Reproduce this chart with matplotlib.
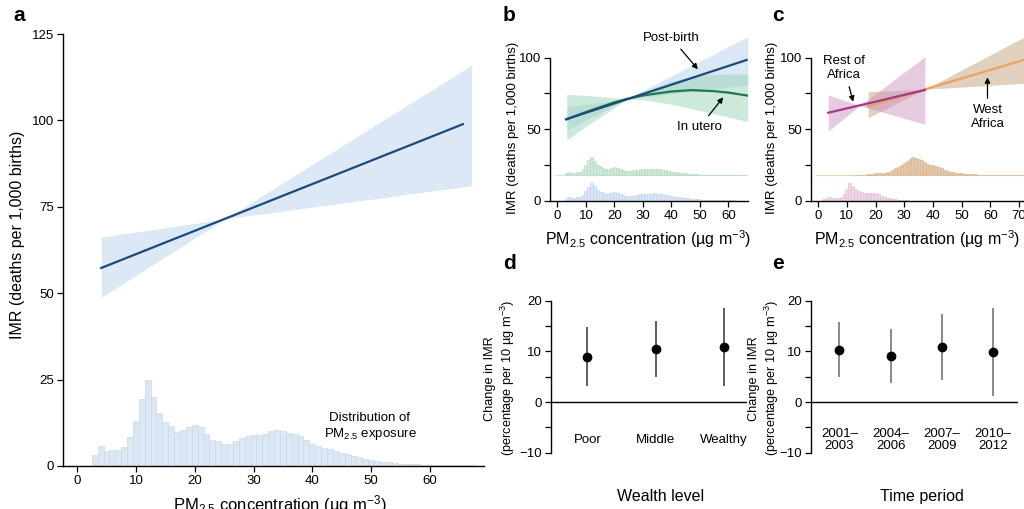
import numpy as np
import matplotlib
matplotlib.use("Agg")
import matplotlib.pyplot as plt

plt.rcParams['font.family'] = ['Liberation Sans', 'DejaVu Sans']
plt.rcParams['mathtext.fontset'] = 'custom'
plt.rcParams['mathtext.rm'] = 'Liberation Sans'
plt.rcParams['mathtext.default'] = 'regular'
plt.rcParams['axes.linewidth'] = 1.0

# ---- panel a: pooled dose-response and exposure distribution ----
pm_line_x = [4.1, 65.6]
pm_line_imr = [57.3, 98.9]
pm_band_x = [4.1, 25.2, 67.1]
pm_band_hi = [66.2, 71.5, 116.0]
pm_band_lo = [48.8, 71.5, 81.1]

exposure_start = 3
exposure_share = [3.1, 5.7, 4.2, 4.5, 4.6, 5.4, 8.3, 13.1, 19.5, 25.0,
                  19.9, 15.2, 12.8, 11.6, 9.7, 10.4, 11.2, 11.8, 11.2, 9.4,
                  7.5, 7.3, 6.5, 6.5, 7.1, 8.1, 8.8, 9.0, 9.0, 9.4,
                  10.1, 10.4, 10.1, 9.6, 9.2, 8.7, 7.5, 6.5, 5.7, 5.3,
                  4.8, 4.4, 3.9, 3.4, 3.0, 2.6, 2.1, 1.7, 1.4, 1.2,
                  1.1, 0.9, 0.7, 0.6, 0.5, 0.5, 0.4, 0.4, 0.4, 0.3,
                  0.3, 0.3, 0.2, 0.2, 0.2]

# ---- panel b: post-birth vs in utero exposure ----
post_x = [3.0, 66.4]
post_imr = [56.9, 98.4]
post_band_x = [3.3, 24.3, 66.8]
post_band_hi = [65.7, 71.1, 114.7]
post_band_lo = [49.4, 71.1, 80.9]

utero_x = [3.3, 10, 20, 24.3, 30, 40, 47, 55, 60, 66.8]
utero_imr = [57.0, 62.0, 68.8, 71.1, 73.6, 76.4, 77.3, 76.6, 75.6, 73.5]
utero_band_x = [3.3, 10, 20, 24.3, 30, 40, 50, 60, 66.8]
utero_band_hi = [74.4, 73.6, 72.0, 71.1, 76.0, 83.5, 88.0, 88.5, 88.4]
utero_band_lo = [42.4, 52.0, 65.0, 71.1, 70.5, 67.5, 63.0, 58.5, 55.3]

hist_b_start = 3
post_hist = [1.5, 2.8, 2.1, 2.2, 2.3, 2.7, 4.1, 6.5, 9.7, 12.6,
             10.0, 7.6, 6.4, 5.8, 4.9, 5.2, 5.6, 5.9, 5.6, 4.7,
             3.8, 3.6, 3.3, 3.3, 3.5, 4.0, 4.4, 4.5, 4.5, 4.7,
             5.0, 5.2, 5.0, 4.8, 4.6, 4.3, 3.8, 3.3, 2.9, 2.6,
             2.4, 2.2, 1.9, 1.7, 1.5, 1.3, 1.0, 0.9, 0.7, 0.6,
             0.5, 0.4, 0.4, 0.3, 0.3, 0.2, 0.2, 0.2, 0.2, 0.2,
             0.1, 0.1, 0.1, 0.1]
utero_hist = [1.5, 2.3, 2.0, 2.0, 2.1, 2.6, 4.2, 7.5, 10.5, 12.6,
              9.8, 7.5, 6.3, 5.3, 4.5, 4.8, 5.3, 5.6, 5.3, 4.5,
              3.6, 3.3, 3.1, 3.2, 3.5, 3.8, 4.1, 4.3, 4.4, 4.6,
              4.7, 4.7, 4.6, 4.3, 4.0, 3.6, 3.1, 2.7, 2.4, 2.1,
              1.9, 1.6, 1.4, 1.2, 1.0, 0.9, 0.7, 0.6, 0.5, 0.4,
              0.4, 0.3, 0.3, 0.2, 0.2, 0.2, 0.2, 0.1, 0.1, 0.1,
              0.1, 0.1, 0.1, 0.1]
upper_hist_base = 17.7

# ---- panel c: West Africa vs rest of Africa ----
rest_x = [3.5, 37.2]
rest_imr = [61.5, 77.4]
rest_band_x = [3.5, 14.5, 37.2]
rest_band_hi = [73.9, 66.5, 100.7]
rest_band_lo = [48.7, 66.5, 53.4]

west_x = [17.4, 75.0]
west_imr = [66.1, 100.4]
west_band_x = [17.4, 37.2, 75.0]
west_band_hi = [76.2, 77.9, 117.8]
west_band_lo = [58.1, 77.9, 82.5]

rest_hist_start = 2
rest_hist = [1.0, 2.0, 2.3, 2.0, 2.0, 2.2, 2.8, 4.5, 8.5, 12.6,
             10.5, 8.0, 6.8, 6.0, 5.4, 5.2, 5.5, 5.6, 5.3, 4.5,
             3.6, 2.8, 2.2, 1.7, 1.3, 1.0, 0.7, 0.5, 0.3, 0.2, 0.1]
west_hist_start = 13
west_hist = [0.2, 0.3, 0.4, 0.6, 0.8, 1.0, 1.2, 1.4, 1.6, 1.8,
             2.0, 2.3, 2.6, 3.5, 5.0, 6.1, 7.3, 8.9, 10.0, 11.5,
             12.6, 12.3, 11.6, 10.7, 9.3, 7.9, 7.5, 7.2, 6.4, 5.6,
             4.9, 4.1, 3.3, 2.6, 2.2, 1.9, 1.6, 1.4, 1.2, 1.0,
             0.9, 0.8, 0.7, 0.6, 0.5, 0.5, 0.5, 0.4, 0.4, 0.4,
             0.4, 0.3, 0.3, 0.3, 0.3, 0.3, 0.2, 0.2, 0.2, 0.2,
             0.2, 0.2]

# ---- panels d, e: heterogeneity of the effect ----
wealth_groups = ['Poor', 'Middle', 'Wealthy']
wealth_est = [8.9, 10.4, 10.9]
wealth_lo = [3.1, 5.0, 3.2]
wealth_hi = [14.8, 15.9, 18.5]

periods = ['2001–\n2003', '2004–\n2006', '2007–\n2009', '2010–\n2012']
period_est = [10.3, 9.1, 10.8, 9.9]
period_lo = [4.9, 3.7, 4.3, 1.2]
period_hi = [15.7, 14.5, 17.4, 18.5]

PM_LABEL = 'PM$_{2.5}$ concentration (µg m$^{-3}$)'
IMR_LABEL = 'IMR (deaths per 1,000 births)'
CHANGE_LABEL = 'Change in IMR\n(percentage per 10 µg m$^{-3}$)'

W, H = 1024, 509
fig = plt.figure(figsize=(W / 100, H / 100), dpi=100)


def axes_px(x0, x1, y_bottom, y_top):
    return fig.add_axes([x0 / W, 1 - y_bottom / H, (x1 - x0) / W, (y_bottom - y_top) / H])


def style(ax):
    for s in ('top', 'right'):
        ax.spines[s].set_visible(False)
    ax.tick_params(direction='out', length=4, width=0.9, labelsize=9.5, pad=2.5)


def hist(ax, start, heights, base, fc, ec):
    centers = np.arange(start, start + len(heights))
    ax.bar(centers, heights, width=1.0, bottom=base, color=fc, edgecolor=ec, linewidth=0.4, zorder=1)


def set_labels(ax, xlabel, xpos, ylabel, ypos, xsize=11.5, ysize=10.5):
    ax.set_xlabel(xlabel, fontsize=xsize)
    ax.xaxis.set_label_coords(*xpos)
    ax.xaxis.label.set_va('center')
    ax.set_ylabel(ylabel, fontsize=ysize)
    ax.yaxis.set_label_coords(*ypos)
    ax.yaxis.label.set_va('center')


arrow = dict(arrowstyle='-|>', color='black', lw=0.9, mutation_scale=8, shrinkA=2, shrinkB=0)

# a
ax = axes_px(63, 484, 466, 34)
style(ax)
hist(ax, exposure_start, exposure_share, 0, '#dce7f4', '#c4d4e8')
ax.fill_between(pm_band_x, pm_band_lo, pm_band_hi, color='#dce8f6', lw=0, zorder=2)
ax.plot(pm_line_x, pm_line_imr, color='#1b4a7d', lw=1.6, zorder=3)
ax.text(49.8, 11.4, 'Distribution of\nPM$_{2.5}$ exposure', ha='center', va='center', fontsize=9.5)
ax.set_xlim(-2.4, 69.2)
ax.set_ylim(0, 125)
ax.set_xticks(range(0, 70, 10))
ax.set_yticks(range(0, 126, 25))
set_labels(ax, PM_LABEL, (0.515, -0.09), IMR_LABEL, (-0.109, 0.535), 12, 11.5)

# b
ax = axes_px(550, 747.7, 200.7, 29.1)
style(ax)
hist(ax, hist_b_start, post_hist, 0, '#d9e5f4', '#bfd1e8')
ax.hlines(upper_hist_base, -1, 66.8, color='#cfe6d6', lw=0.8, zorder=1)
hist(ax, hist_b_start, utero_hist, upper_hist_base, '#cfe8d7', '#b4d8bf')
ax.fill_between(post_band_x, post_band_lo, post_band_hi, color='#a8c8ea', alpha=0.42, lw=0, zorder=2)
ax.fill_between(utero_band_x, utero_band_lo, utero_band_hi, color='#92cfab', alpha=0.45, lw=0, zorder=2)
ax.plot(utero_x, utero_imr, color='#1e7a4c', lw=1.6, zorder=3)
ax.plot(post_x, post_imr, color='#1b4a7d', lw=1.6, zorder=4)
ax.annotate('Post-birth', xy=(49.3, 91.9), xytext=(40.1, 113.6), ha='center', va='center',
            fontsize=9.5, arrowprops=arrow)
ax.annotate('In utero', xy=(58.2, 72.3), xytext=(50.0, 51.7), ha='center', va='center',
            fontsize=9.5, arrowprops=arrow)
ax.set_xlim(-2.6, 66.8)
ax.set_ylim(0, 120)
ax.set_xticks(range(0, 70, 10))
ax.set_yticks([0, 25, 50, 75, 100], ['0', '', '50', '', '100'])
ax.spines['left'].set_bounds(0, 100)
set_labels(ax, PM_LABEL, (0.496, -0.225), IMR_LABEL, (-0.187, 0.424), 11.5, 9.5)

# c
ax = axes_px(811, 1033.4, 200.7, 29.1)
style(ax)
hist(ax, rest_hist_start, rest_hist, 0, '#eed5e6', '#dfbdd3')
ax.hlines(upper_hist_base, -1, 75, color='#ebd2b8', lw=0.8, zorder=1)
hist(ax, west_hist_start, west_hist, upper_hist_base, '#e2c6a5', '#d5b592')
ax.fill_between(west_band_x, west_band_lo, west_band_hi, color='#c49d78', alpha=0.48, lw=0, zorder=2)
ax.fill_between(rest_band_x, rest_band_lo, rest_band_hi, color='#c98aba', alpha=0.45, lw=0, zorder=2)
ax.plot(west_x, west_imr, color='#e9a25f', lw=1.6, zorder=3)
ax.plot(rest_x, rest_imr, color='#a33a84', lw=1.6, zorder=4)
ax.annotate('Rest of\nAfrica', xy=(12.2, 69.2), xytext=(9.1, 92.6), ha='center', va='center',
            fontsize=9.5, arrowprops=arrow)
ax.annotate('West\nAfrica', xy=(59.0, 86.3), xytext=(59.0, 58.7), ha='center', va='center',
            fontsize=9.5, arrowprops=arrow)
ax.set_xlim(-2.5, 75)
ax.set_ylim(0, 120)
ax.set_xticks(range(0, 80, 10))
ax.set_yticks([0, 25, 50, 75, 100], ['0', '', '50', '', '100'])
ax.spines['left'].set_bounds(0, 100)
set_labels(ax, PM_LABEL, (0.475, -0.225), IMR_LABEL, (-0.177, 0.424), 11.5, 9.5)


def effect_panel(ax, names, est, lo, hi, bar_color, xlabel, xpos, ypos):
    style(ax)
    ax.spines['bottom'].set_visible(False)
    x = np.arange(len(names))
    est = np.array(est)
    yerr = [est - np.array(lo), np.array(hi) - est]
    ax.axhline(0, color='black', lw=1.0, zorder=1)
    ax.errorbar(x, est, yerr=yerr, fmt='none', ecolor=bar_color, elinewidth=1.1, capsize=0, zorder=2)
    ax.plot(x, est, 'o', color='black', ms=6, zorder=3)
    for xi, name in zip(x, names):
        ax.text(xi, -7.5, name, ha='center', va='center', fontsize=9.5, linespacing=1.1)
    ax.set_xticks([])
    ax.set_ylim(-10, 20)
    ax.set_yticks([-10, -5, 0, 5, 10, 15, 20], ['−10', '', '0', '', '10', '', '20'])
    set_labels(ax, xlabel, xpos, CHANGE_LABEL, ypos, 11.5, 9.2)


ax = axes_px(550.7, 746.7, 452.7, 300.7)
ax.set_xlim(-0.54, 2.34)
effect_panel(ax, wealth_groups, wealth_est, wealth_lo, wealth_hi, '#333333',
             'Wealth level', (0.558, -0.291), (-0.254, 0.49))

ax = axes_px(810.7, 1018.3, 452.7, 300.7)
ax.set_xlim(-0.56, 3.49)
effect_panel(ax, periods, period_est, period_lo, period_hi, '#6a6a6a',
             'Time period', (0.536, -0.291), (-0.222, 0.49))

# panel letters
for letter, px, py in [('a', 13, 6), ('b', 503, 6), ('c', 772, 6), ('d', 503, 254), ('e', 772, 254)]:
    fig.text(px / W, 1 - py / H, letter, fontsize=15, fontweight='bold', ha='left', va='top')

fig.savefig('out.png', dpi=100)
